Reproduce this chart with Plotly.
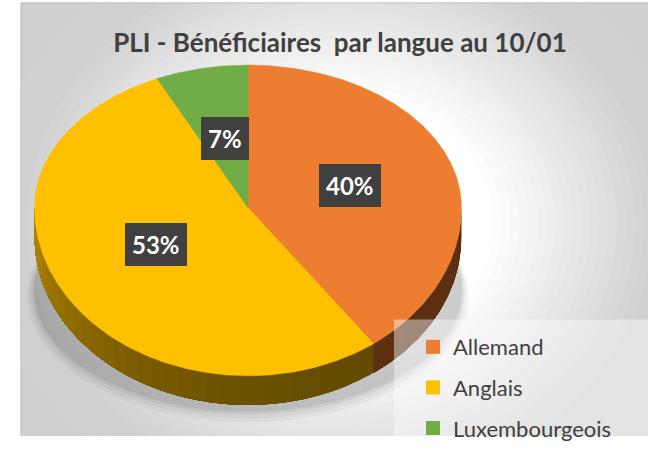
import numpy as np
import plotly.graph_objects as go

# ---- data ----
labels = ["Allemand", "Anglais", "Luxembourgeois"]
values = [40, 53, 7]
colors = ["#ED7D31", "#FFC000", "#70AD47"]
title_text = "PLI - Bénéficiaires\u00a0 par langue au 10/01"

# ---- geometry (pixel space of the 648x449 page) ----
W, H = 648, 449
CX, CY = 248, 214
RX, RY_TOP, RY_BOT = 213.5, 147, 173
DEPTH = 30


def edge(theta_deg):
    t = np.radians(np.asarray(theta_deg, dtype=float))
    x = CX + RX * np.sin(t)
    ry = np.where(np.cos(t) >= 0, RY_TOP, RY_BOT)
    y = CY - ry * np.cos(t)
    return x, y


def hex_to_rgb(h):
    h = h.lstrip("#")
    return tuple(int(h[i:i + 2], 16) for i in (0, 2, 4))


def shade(h, f):
    r, g, b = hex_to_rgb(h)
    return f"rgb({int(r * f)},{int(g * f)},{int(b * f)})"


total = sum(values)
angles = np.cumsum([0] + [v / total * 360 for v in values])

fig = go.Figure()

# ---- sides (front half only), nested polygons for a seamless gradient ----
for i, (lab, col) in enumerate(zip(labels, colors)):
    a0, a1 = angles[i], angles[i + 1]
    s0, s1 = max(a0, 90), min(a1, 270)
    if s1 <= s0:
        continue
    nseg = max(1, int(np.ceil((s1 - s0) / 4)))
    starts = np.linspace(s0, s1, nseg + 1)[:-1]
    for st in starts:
        th = np.linspace(st, s1, max(6, int((s1 - st) * 2)))
        xs, ys = edge(th)
        px = np.concatenate([xs, xs[::-1]])
        py = np.concatenate([ys, ys[::-1] + DEPTH])
        mid = st + 2
        f = 0.38 + 0.34 * ((mid - 90) / 180) ** 3
        c = shade(col, f)
        fig.add_trace(go.Scatter(x=px, y=py, mode="lines", fill="toself",
                                 fillcolor=c, line=dict(width=0),
                                 hoverinfo="skip", showlegend=False))

# ---- top faces ----
for i, (lab, col) in enumerate(zip(labels, colors)):
    a0, a1 = angles[i], angles[i + 1]
    th = np.linspace(a0, a1, max(8, int((a1 - a0) * 2)))
    xs, ys = edge(th)
    px = np.concatenate([[CX], xs, [CX]])
    py = np.concatenate([[CY], ys, [CY]])
    fig.add_trace(go.Scatter(x=px, y=py, mode="lines", fill="toself",
                             fillcolor=col, line=dict(color=col, width=0.5),
                             name=lab, hoverinfo="name", showlegend=False))

# ---- legend entries ----
for lab, col in zip(labels, colors):
    fig.add_trace(go.Scatter(x=[None], y=[None], mode="markers", name=lab,
                             legendgroup=lab,
                             marker=dict(symbol="square", size=14, color=col)))

# ---- data labels ----
annotations = []
for i, v in enumerate(values):
    mid = (angles[i] + angles[i + 1]) / 2
    t = np.radians(mid)
    lx = CX + 0.5 * RX * np.sin(t)
    ly = CY - 0.5 * RY_TOP * np.cos(t)
    txt = f"{round(v / total * 100)}%"
    annotations.append(dict(x=lx, y=ly, xref="x", yref="y", text=f"<b>{txt}</b>",
                            showarrow=False, bgcolor="#404040", borderpad=7,
                            borderwidth=0,
                            font=dict(family="Lato", size=24, color="white")))

# ---- background & shadow shapes ----
shapes = [dict(type="rect", xref="x", yref="y", x0=21, y0=3, x1=W + 2, y1=H + 2,
               fillcolor="#cfcfcf", line=dict(color="#c4c4c4", width=1), layer="below")]
GX, GY, GRX, GRY = 340, 230, 340, 300
n = 24
for k in range(n):
    s = 1.05 - (1.05 - 0.45) * k / (n - 1)
    frac = min(1.0, max(0.0, (s - 0.45) / 0.5))
    g = int(round(255 - frac * (255 - 208)))
    shapes.append(dict(type="circle", xref="x", yref="y",
                       x0=GX - GRX * s, x1=GX + GRX * s, y0=GY - GRY * s, y1=GY + GRY * s,
                       fillcolor=f"rgb({g},{g},{g})", line=dict(width=0), layer="below"))
# white page outside the chart area (left strip / top strip)
shapes.append(dict(type="rect", xref="x", yref="y", x0=-5, y0=-5, x1=20.5, y1=H + 5,
                   fillcolor="white", line=dict(width=0), layer="below"))
shapes.append(dict(type="rect", xref="x", yref="y", x0=-5, y0=-5, x1=W + 5, y1=2.5,
                   fillcolor="white", line=dict(width=0), layer="below"))
shapes.append(dict(type="line", xref="x", yref="y", x0=21, y0=3, x1=21, y1=H + 2,
                   line=dict(color="#c4c4c4", width=1), layer="below"))
shapes.append(dict(type="line", xref="x", yref="y", x0=21, y0=3, x1=W + 2, y1=3,
                   line=dict(color="#c4c4c4", width=1), layer="below"))
# soft shadow under the pie
for grow, a in [(12, 0.035), (8, 0.045), (4, 0.06), (1, 0.07)]:
    shapes.append(dict(type="circle", xref="x", yref="y",
                       x0=CX - RX - grow * 0.6, x1=CX + RX + grow * 0.6,
                       y0=CY - 40, y1=CY + RY_BOT + DEPTH + 6 + grow,
                       fillcolor=f"rgba(0,0,0,{a})", line=dict(width=0), layer="below"))
# translucent legend panel
shapes.append(dict(type="rect", xref="x", yref="y", x0=394, y0=329, x1=W + 2, y1=H + 2,
                   fillcolor="rgba(250,250,250,0.45)", line=dict(width=0), layer="above"))

fig.update_layout(
    width=W, height=H,
    margin=dict(l=0, r=0, t=0, b=0),
    paper_bgcolor="white", plot_bgcolor="white",
    xaxis=dict(range=[0, W], visible=False, fixedrange=True),
    yaxis=dict(range=[H, 0], visible=False, fixedrange=True),
    title=dict(text=f"<b>{title_text}</b>", x=340 / W, xanchor="center",
               y=1 - 43 / H, yanchor="middle",
               font=dict(family="Lato", size=26, color="#404040")),
    showlegend=True,
    legend=dict(x=413 / W, y=1 - 336 / H, xanchor="left", yanchor="top",
                bgcolor="rgba(0,0,0,0)", font=dict(family="Lato", size=22, color="#404040"),
                tracegroupgap=9, itemclick=False, itemdoubleclick=False),
    annotations=annotations,
    shapes=shapes,
)

fig.write_html("out.html")
